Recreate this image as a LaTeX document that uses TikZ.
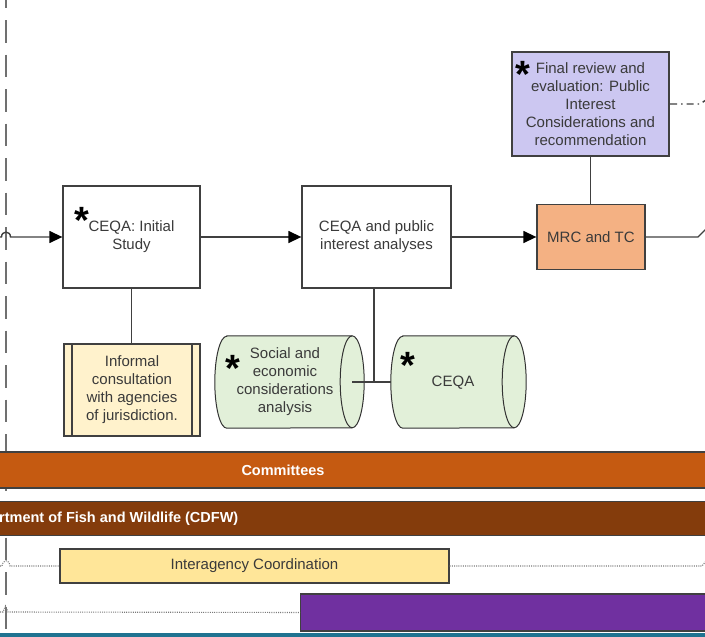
\documentclass[tikz,border=0pt]{standalone}
\usepackage{fontspec}
\setmainfont{Liberation Sans}
\usetikzlibrary{arrows.meta}
\definecolor{edge}{HTML}{404040}
\definecolor{txt}{HTML}{3A3A3A}
\definecolor{lav}{HTML}{CCC7F1}
\definecolor{salmon}{HTML}{F4B183}
\definecolor{cream}{HTML}{FFF2CC}
\definecolor{mint}{HTML}{E2F0D9}
\definecolor{rust}{HTML}{C55A11}
\definecolor{bark}{HTML}{843C0C}
\definecolor{butter}{HTML}{FFE699}
\definecolor{grape}{HTML}{7030A0}
\definecolor{footteal}{HTML}{1F7391}
\definecolor{lane}{HTML}{707070}
\definecolor{dotgray}{HTML}{7A7A7A}
\begin{document}
\begin{tikzpicture}[x=1pt,y=-1pt,
  boxnode/.style={draw=edge, line width=1.3pt, fill=white, align=center, inner sep=0pt,
    text=txt, font=\fontsize{15}{18}\selectfont},
  plaintext/.style={align=center, inner sep=0pt, text=txt, font=\fontsize{15}{18}\selectfont},
  conn/.style={draw=edge, line width=1.4pt},
  arr/.style={conn, -{Triangle[length=13pt,width=12pt,color=black]}},
  starmark/.style={font=\fontsize{38}{38}\selectfont\bfseries, inner sep=0pt, anchor=north, text=black},
  bar/.style={draw=black!75, line width=1.2pt, inner sep=0pt, text=white,
    font=\fontsize{14.5}{17}\selectfont\bfseries},
  cyl/.style={draw=black!80, line width=1pt, fill=mint},
  dotline/.style={draw=dotgray, line width=1.1pt, dash pattern=on 1pt off 1.2pt},
  lanedash/.style={draw=lane, line width=1.6pt, dash pattern=on 22.5pt off 12pt, dash phase=14.5pt}]
\useasboundingbox (0,0) rectangle (705,637);
\clip (0,0) rectangle (705,637);

% swimlane divider
\draw[lanedash] (6,0) -- (6,632);

% process boxes
\node[boxnode, minimum width=137pt, minimum height=102pt] (init) at (131.5,237) {CEQA: Initial\\Study};
\node[boxnode, minimum width=149pt, minimum height=102pt] (pub) at (376.5,237) {CEQA and public\\interest analyses};
\node[boxnode, fill=salmon, minimum width=108pt, minimum height=65pt] (mrc) at (591,237) {MRC and TC};
\node[boxnode, fill=lav, line width=2.4pt, minimum width=157pt, minimum height=104pt] (rev) at (590.5,104)
  {Final review and\\evaluation: Public\\Interest\\Considerations and\\recommendation};
\node[boxnode, fill=cream, line width=1.8pt, minimum width=136pt, minimum height=92pt] (inf) at (132,390)
  {Informal\\consultation\\with agencies\\of jurisdiction.};
\draw[draw=edge, line width=1.8pt] ([xshift=9pt]inf.north west) -- ([xshift=9pt]inf.south west);
\draw[draw=edge, line width=1.8pt] ([xshift=-9pt]inf.north east) -- ([xshift=-9pt]inf.south east);

% flow connectors
\coordinate (lanein) at (0,237);
\draw[arr] (lanein) -- (1.5,237) .. controls (1.5,230.5) and (10.5,230.5) .. (10.5,237) -- (init.west);
\draw[arr] (init) -- (pub);
\draw[arr] (pub) -- (mrc);
\coordinate (laneout) at (706,229);
\draw[conn] (mrc.east) -- (698,237) -- (laneout);
\draw[conn] (rev.south) -- (rev.south |- mrc.north);
\coordinate (revout) at (706,100);
\draw[conn, dash pattern=on 7pt off 4pt on 1.5pt off 4pt] (rev.east) -- (700,104) -- (revout);
\draw[conn] (init.south) -- (init.south |- inf.north);

% data stores
\node[minimum width=125pt, minimum height=92pt, inner sep=0pt] (socbody) at (289.5,382) {};
\node[minimum width=111pt, minimum height=92pt, inner sep=0pt] (cqbody) at (458.5,382) {};
\draw[cyl] (socbody.north west) -- (socbody.north east)
  arc[start angle=90, end angle=-90, x radius=12pt, y radius=46pt] -- (socbody.south west)
  arc[start angle=270, end angle=90, x radius=12pt, y radius=46pt] -- cycle;
\draw[draw=black!80, line width=1pt] (socbody.north east) arc[start angle=90, end angle=270, x radius=12pt, y radius=46pt];
\coordinate (join) at (374,382);
\draw[conn] (pub.south -| join) -- (join);
\draw[conn] (socbody.east) -- (cqbody.west);
\draw[cyl] (cqbody.north west) -- (cqbody.north east)
  arc[start angle=90, end angle=-90, x radius=12pt, y radius=46pt] -- (cqbody.south west)
  arc[start angle=270, end angle=90, x radius=12pt, y radius=46pt] -- cycle;
\draw[draw=black!80, line width=1pt] (cqbody.north east) arc[start angle=90, end angle=270, x radius=12pt, y radius=46pt];
\node[plaintext] (soc) at (285,381.5) {Social and\\economic\\considerations\\analysis};
\node[plaintext] (ceqa) at (453,383) {CEQA};

% asterisk marks
\node[starmark] (s1) at (81.5,207) {*};
\node[starmark] (s2) at (522.5,61) {*};
\node[starmark] (s3) at (232.5,355) {*};
\node[starmark] (s4) at (407.5,352) {*};

% swimlane bars
\node[bar, fill=rust, minimum width=860pt, minimum height=36pt] (com) at (283,470) {Committees};
\node[bar, fill=bark, minimum width=740pt, minimum height=34pt] (cdfw) at (352.5,518.5) {};
\node[inner sep=0pt, anchor=west, text=white, font=\fontsize{14.5}{17}\selectfont\bfseries] (cdfwtxt) at (-1,518.5)
  {rtment of Fish and Wildlife (CDFW)};
\node[boxnode, fill=butter, minimum width=389pt, minimum height=34pt] (inter) at (254.5,566) {Interagency Coordination};
\node[bar, fill=grape, minimum width=420pt, minimum height=37pt, anchor=west] (purp) at (300,612.5) {};

\coordinate (dl1) at (0,566);
\draw[dotline] (dl1) -- (2,566) .. controls (3,559) and (9,559) .. (10,566) -- (inter.west);
\coordinate (dr1) at (706,561);
\draw[dotline] (inter.east) -- (702,566) -- (dr1);
\coordinate (dl2) at (0,612);
\draw[dotline] (dl2) -- (3,612) -- (5.5,606) -- (8,612) -- (purp.west);

\fill[footteal] (0,632.5) rectangle (705,637);
\end{tikzpicture}
\end{document}
